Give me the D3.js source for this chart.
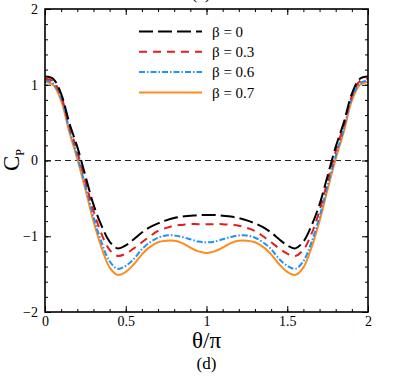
<!DOCTYPE html>
<html>
<head>
<meta charset="utf-8">
<script src="https://cdn.jsdelivr.net/npm/d3@7"></script>
<style>
  body { margin: 0; background: #fff; }
  svg { display: block; }
  svg text { font-family: "Liberation Serif", "DejaVu Serif", serif; fill: #000; }
  .axis path { display: none; }
  .axis line { stroke: #000; stroke-width: 1; }
  .axis text { font-size: 14px; }
</style>
</head>
<body>
<svg id="chart" width="404" height="391"></svg>
<script>
// theta / pi sample positions
var theta = [0, 0.05, 0.1, 0.15, 0.2, 0.25, 0.3, 0.35, 0.4, 0.45, 0.5,
    0.55, 0.6, 0.65, 0.7, 0.75, 0.8, 0.85, 0.9, 0.95, 1.0,
    1.05, 1.1, 1.15, 1.2, 1.25, 1.3, 1.35, 1.4, 1.45, 1.5,
    1.55, 1.6, 1.65, 1.7, 1.75, 1.8, 1.85, 1.9, 1.95, 2.0];

// Cp
var cpBeta0 = [1.11, 1.08, 0.88, 0.50, 0.18, -0.20, -0.58, -0.86, -1.07, -1.16, -1.12,
    -1.04, -0.95, -0.88, -0.83, -0.79, -0.76, -0.74, -0.73, -0.72, -0.72,
    -0.72, -0.73, -0.74, -0.76, -0.79, -0.83, -0.88, -0.95, -1.04, -1.12,
    -1.16, -1.07, -0.86, -0.58, -0.20, 0.18, 0.50, 0.88, 1.08, 1.11];
var cpBeta03 = [1.08, 1.05, 0.85, 0.46, 0.12, -0.27, -0.66, -0.97, -1.18, -1.26, -1.23,
    -1.16, -1.08, -1.00, -0.93, -0.89, -0.86, -0.85, -0.84, -0.84, -0.84,
    -0.84, -0.84, -0.85, -0.86, -0.89, -0.93, -1.00, -1.08, -1.16, -1.23,
    -1.26, -1.18, -0.97, -0.66, -0.27, 0.12, 0.46, 0.85, 1.05, 1.08];
var cpBeta06 = [1.06, 1.02, 0.82, 0.42, 0.06, -0.33, -0.74, -1.08, -1.33, -1.43, -1.39,
    -1.30, -1.17, -1.08, -1.02, -0.99, -0.99, -1.01, -1.04, -1.07, -1.08,
    -1.07, -1.04, -1.01, -0.99, -0.99, -1.02, -1.08, -1.17, -1.30, -1.39,
    -1.43, -1.33, -1.08, -0.74, -0.33, 0.06, 0.42, 0.82, 1.02, 1.06];
var cpBeta07 = [1.04, 1.00, 0.79, 0.38, 0.02, -0.38, -0.80, -1.15, -1.41, -1.51, -1.47,
    -1.37, -1.24, -1.14, -1.08, -1.06, -1.06, -1.09, -1.15, -1.20, -1.22,
    -1.20, -1.15, -1.09, -1.06, -1.06, -1.08, -1.14, -1.24, -1.37, -1.47,
    -1.51, -1.41, -1.15, -0.80, -0.38, 0.02, 0.38, 0.79, 1.00, 1.04];

var seriesLabels = ["\u03b2 = 0", "\u03b2 = 0.3", "\u03b2 = 0.6", "\u03b2 = 0.7"];
var xTicks = [0, 0.5, 1, 1.5, 2];
var yTicks = [-2, -1, 0, 1, 2];

var series = [
    { label: seriesLabels[0], values: cpBeta0, color: "#000000", dash: "14,5" },
    { label: seriesLabels[1], values: cpBeta03, color: "#e01e1e", dash: "8,6" },
    { label: seriesLabels[2], values: cpBeta06, color: "#1e90ff", dash: "6,2,1.5,2" },
    { label: seriesLabels[3], values: cpBeta07, color: "#ff8c1a", dash: null }
];

var svg = d3.select("#chart");
// plot frame (note: "top" is reserved on window, so use other names)
var pLeft = 45, pRight = 368, pTop = 9, pBottom = 312;

var x = d3.scaleLinear().domain([0, 2]).range([pLeft, pRight]);
var y = d3.scaleLinear().domain([-2, 2]).range([pBottom, pTop]);

var minorX = d3.range(0, 2.0001, 0.1).map(function (d) { return +d.toFixed(1); });
var minorY = d3.range(-2, 2.0001, 0.2).map(function (d) { return +d.toFixed(1); });

//////////// AXES ////////////

function addAxis(axis, tx, ty) {
    return svg.append("g")
        .attr("class", "axis")
        .attr("transform", "translate(" + tx + "," + ty + ")")
        .call(axis);
}

// minor ticks on all four sides
addAxis(d3.axisBottom(x).tickValues(minorX).tickSize(-3).tickFormat(""), 0, pBottom);
addAxis(d3.axisTop(x).tickValues(minorX).tickSize(-3).tickFormat(""), 0, pTop);
addAxis(d3.axisLeft(y).tickValues(minorY).tickSize(-3).tickFormat(""), pLeft, 0);
addAxis(d3.axisRight(y).tickValues(minorY).tickSize(-3).tickFormat(""), pRight, 0);

// major ticks
addAxis(d3.axisBottom(x).tickValues(xTicks).tickSize(-6).tickPadding(4)
    .tickFormat(d3.format("")), 0, pBottom);
addAxis(d3.axisTop(x).tickValues(xTicks).tickSize(-6).tickFormat(""), 0, pTop);
addAxis(d3.axisLeft(y).tickValues(yTicks).tickSize(-6).tickPadding(7)
    .tickFormat(d3.format("")), pLeft, 0);
addAxis(d3.axisRight(y).tickValues(yTicks).tickSize(-6).tickFormat(""), pRight, 0);

// zero reference line
svg.append("line")
    .attr("x1", pLeft).attr("x2", pRight)
    .attr("y1", y(0)).attr("y2", y(0))
    .attr("stroke", "#222")
    .attr("stroke-width", 1)
    .attr("stroke-dasharray", "6,4");

//////////// CURVES ////////////

var line = d3.line()
    .x(function (d, i) { return x(theta[i]); })
    .y(function (d) { return y(d); })
    .curve(d3.curveCatmullRom.alpha(0.5));

svg.append("clipPath").attr("id", "plotclip")
    .append("rect")
    .attr("x", pLeft).attr("y", pTop)
    .attr("width", pRight - pLeft).attr("height", pBottom - pTop);

svg.append("g")
    .attr("clip-path", "url(#plotclip)")
    .selectAll("path")
    .data(series.slice().reverse())
    .enter().append("path")
    .attr("d", function (d) { return line(d.values); })
    .attr("fill", "none")
    .attr("stroke", function (d) { return d.color; })
    .attr("stroke-width", 2)
    .attr("stroke-dasharray", function (d) { return d.dash; });

// frame
svg.append("rect")
    .attr("x", pLeft).attr("y", pTop)
    .attr("width", pRight - pLeft).attr("height", pBottom - pTop)
    .attr("fill", "none")
    .attr("stroke", "#000")
    .attr("stroke-width", 1.6);

//////////// LEGEND ////////////

var legend = svg.append("g").selectAll("g")
    .data(series)
    .enter().append("g")
    .attr("transform", function (d, i) { return "translate(139," + (31.5 + i * 20.3) + ")"; });

legend.append("line")
    .attr("x1", 0).attr("x2", 63)
    .attr("stroke", function (d) { return d.color; })
    .attr("stroke-width", 2)
    .attr("stroke-dasharray", function (d) { return d.dash; });

legend.append("text")
    .attr("x", 73)
    .attr("dy", "0.35em")
    .attr("font-size", 15)
    .text(function (d) { return d.label; });

//////////// TITLES ////////////

svg.append("text")
    .attr("x", (pLeft + pRight) / 2)
    .attr("y", 348)
    .attr("text-anchor", "middle")
    .attr("font-size", 23)
    .text("\u03b8/\u03c0");

svg.append("text")
    .attr("x", (pLeft + pRight) / 2)
    .attr("y", 369)
    .attr("text-anchor", "middle")
    .attr("font-size", 17)
    .text("(d)");

// caption of the panel above, mostly cut off by the top edge
svg.append("text")
    .attr("x", 201)
    .attr("y", -1)
    .attr("text-anchor", "middle")
    .attr("font-size", 17)
    .text("(c)");

var ylab = svg.append("text")
    .attr("transform", "translate(19,160) rotate(-90)")
    .attr("text-anchor", "middle")
    .attr("font-size", 23);
ylab.append("tspan").text("C");
ylab.append("tspan").attr("font-size", 12).attr("dy", 5).text("P");
</script>
</body>
</html>
